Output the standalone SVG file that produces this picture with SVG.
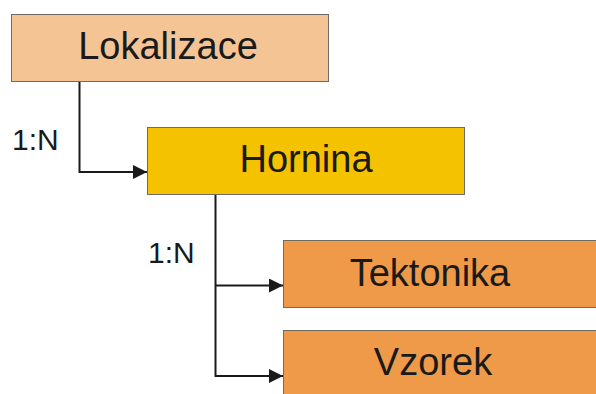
<svg xmlns="http://www.w3.org/2000/svg" width="596" height="394" viewBox="0 0 596 394">
<defs>
<style>
.box{stroke:#6f6a64;stroke-width:1}
.t{font-family:"Liberation Sans",Arial,sans-serif;font-size:38px;fill:#1a1a1a;text-anchor:middle}
.l{font-family:"Liberation Sans",Arial,sans-serif;font-size:30px;fill:#1a1a1a}
.c{fill:none;stroke:#1a1a1a;stroke-width:2}
</style>
<marker id="ar" viewBox="0 0 14 14" refX="14" refY="7" markerWidth="14" markerHeight="14" markerUnits="userSpaceOnUse" orient="auto">
<path d="M0,0 L14,7 L0,14 Z" fill="#1a1a1a"/>
</marker>
</defs>
<rect width="596" height="394" fill="#ffffff"/>
<g id="connectors">
<path class="c" d="M79.5,82 V172 H147" marker-end="url(#ar)"/>
<path class="c" d="M215.5,195 V376 H283" marker-end="url(#ar)"/>
<path class="c" d="M215.5,285.5 H283" marker-end="url(#ar)"/>
<text class="l" x="12" y="150">1:N</text>
<text class="l" x="148" y="263">1:N</text>
</g>
<g id="lokalizace">
<rect class="box" x="11.5" y="14.5" width="317" height="67" fill="#F4C495"/>
<text class="t" x="168" y="59">Lokalizace</text>
</g>
<g id="hornina">
<rect class="box" x="147.5" y="127.5" width="317" height="67" fill="#F5C200"/>
<text class="t" x="306" y="172">Hornina</text>
</g>
<g id="tektonika">
<rect class="box" x="283.5" y="240.5" width="320" height="67" fill="#EE9A48"/>
<text class="t" x="430" y="286">Tektonika</text>
</g>
<g id="vzorek">
<rect class="box" x="283.5" y="330.5" width="320" height="70" fill="#EE9A48"/>
<text class="t" x="433" y="375">Vzorek</text>
</g>
</svg>
